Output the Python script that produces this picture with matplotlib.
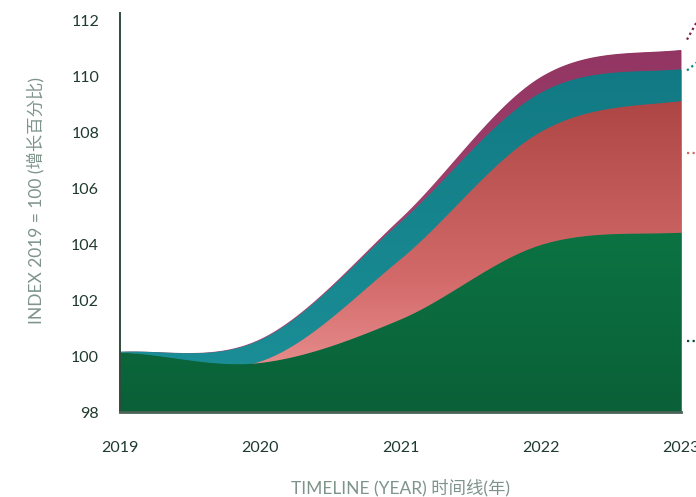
import numpy as np
import matplotlib
matplotlib.use("Agg")
import matplotlib.pyplot as plt
from matplotlib.colors import LinearSegmentedColormap

# ---- data (index 2019 = 100), one value per year for each series ----
years = [2019, 2020, 2021, 2022, 2023]
green_vals = [100.12, 99.75, 101.30, 103.96, 104.40]
salmon_vals = [100.12, 99.80, 103.45, 108.00, 109.10]
teal_vals = [100.15, 100.57, 104.78, 109.40, 110.24]
magenta_vals = [100.15, 100.60, 104.90, 109.96, 110.93]
# label anchor values for the (cut-off) leader lines on the right
label_vals = [111.3, 110.2, 107.25, 100.55]
y_ticks = [98, 100, 102, 104, 106, 108, 110, 112]
x_ticks = [2019, 2020, 2021, 2022, 2023]

BASE = 98


def cardinal(x, y, n=400):
    """Uniform Catmull-Rom (cardinal, tension 0) curve through the points."""
    x = np.asarray(x, float)
    y = np.asarray(y, float)
    h = np.diff(x)
    N = len(x)
    t = np.zeros(N)
    for i in range(1, N - 1):
        t[i] = (y[i + 1] - y[i - 1]) / (x[i + 1] - x[i - 1])
    t[0] = 0.5 * (y[1] - y[0]) / h[0]
    t[-1] = 0.5 * (y[-1] - y[-2]) / h[-1]
    xs = np.linspace(x[0], x[-1], n)
    ys = np.empty_like(xs)
    for k, xv in enumerate(xs):
        i = min(np.searchsorted(x, xv, side="right") - 1, N - 2)
        hh = h[i]
        u = (xv - x[i]) / hh
        h00 = 2 * u**3 - 3 * u**2 + 1
        h10 = u**3 - 2 * u**2 + u
        h01 = -2 * u**3 + 3 * u**2
        h11 = u**3 - u**2
        ys[k] = h00 * y[i] + h10 * hh * t[i] + h01 * y[i + 1] + h11 * hh * t[i + 1]
    return xs, ys


W, H, DPI = 696, 497, 100
fig = plt.figure(figsize=(W / DPI, H / DPI), dpi=DPI)
ax = fig.add_axes([120 / W, 1 - 412 / H, 561 / W, (412 - 13) / H])

series = [
    (magenta_vals, ["#b24e7c", "#a0416d", "#8f3360"]),
    (teal_vals, ["#1c9099", "#16848c", "#107580"]),
    (salmon_vals, ["#f09c9c", "#d36a6a", "#b84f4f", "#983232"]),
    (green_vals, ["#0a6038", "#0c7544", "#0d7f4a"]),
]

ymin_img, ymax_img = 98, 112.3
for vals, cols in series:
    xs, ys = cardinal(years, vals)
    poly = ax.fill_between(xs, BASE, ys, color=cols[1], lw=0, zorder=2)
    cmap = LinearSegmentedColormap.from_list("c", cols)
    grad = np.linspace(0, 1, 256).reshape(-1, 1) * np.ones((1, 8))
    im = ax.imshow(grad, cmap=cmap, origin="lower", aspect="auto",
                   extent=[2019, 2023, ymin_img, ymax_img], zorder=2,
                   interpolation="bilinear")
    im.set_clip_path(poly.get_paths()[0], ax.transData)

ax.set_xlim(2019, 2023)
ax.set_ylim(98, 112.25)
ax.set_xticks(x_ticks)
ax.set_yticks(y_ticks)

tick_col = "#1f3a2e"
ax.tick_params(axis="both", length=0, labelsize=11.5, labelcolor=tick_col)
ax.tick_params(axis="y", pad=15)
ax.tick_params(axis="x", pad=21)
for lab in ax.get_xticklabels() + ax.get_yticklabels():
    lab.set_family(["Lato", "DejaVu Sans"])

for sp in ["top", "right"]:
    ax.spines[sp].set_visible(False)
ax.spines["left"].set_color("#2f4a3c")
ax.spines["left"].set_linewidth(1.4)
ax.spines["bottom"].set_color("#4a6357")
ax.spines["bottom"].set_linewidth(2)
ax.spines["left"].set_zorder(5)
ax.spines["bottom"].set_zorder(5)

lab_font = ["Lato", "Noto Sans CJK SC", "DejaVu Sans"]
ax.set_ylabel("INDEX 2019 = 100 (增长百分比)", family=lab_font, fontsize=12.5,
              color="#7e948a")
ax.yaxis.set_label_coords(-(120 - 44) / 561, (412 - 200) / (412 - 13))
ax.set_xlabel("TIMELINE (YEAR) 时间线(年)", family=lab_font, fontsize=12.5,
              color="#7e948a")
ax.xaxis.set_label_coords(0.5, -(479 - 412) / (412 - 13))

# leader lines toward labels that fall outside the canvas
leader_cols = ["#7a1f45", "#12848c", "#d46a6a", "#0b4a2e"]
slopes = [1.8, 0.8, 0.0, 0.0]
for v, c, sl in zip(label_vals, leader_cols, slopes):
    x0, x1 = 2023 + 6 / 140.25, 2023 + 16 / 140.25
    y1 = v + sl * (x1 - x0) * 140.25 / 28
    ax.plot([x0, x1], [v, y1], ls=(0, (1, 1.5)), color=c, lw=1.6,
            clip_on=False, zorder=6)

fig.savefig("out.png", dpi=DPI)
